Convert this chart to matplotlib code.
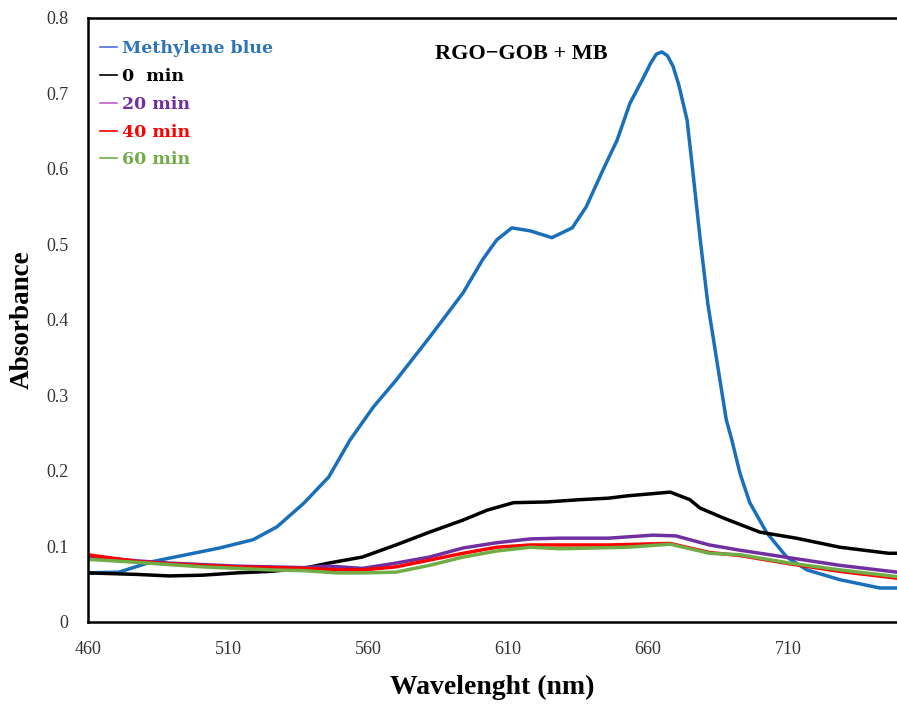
import matplotlib
matplotlib.use("Agg")
import matplotlib.pyplot as plt
from matplotlib.lines import Line2D

plt.rcParams['font.family'] = ['Liberation Serif', 'DejaVu Serif']

# Methylene blue
wl_mb = [460, 471, 483, 495, 507, 519, 527.5, 537, 546, 553.6, 562, 570, 582, 594, 601,
         606, 611.4, 618, 625.7, 633, 638, 644, 649, 653.6, 658, 661, 663, 665, 667,
         669, 671, 674, 676, 678.6, 681.4, 684.6, 688, 690, 692.9, 696.4, 702.5,
         709.6, 716.8, 728.6, 742.9, 749]
ab_mb = [0.065, 0.066, 0.080, 0.089, 0.098, 0.109, 0.126, 0.157, 0.192, 0.241, 0.285, 0.320,
         0.377, 0.436, 0.480, 0.506, 0.522, 0.518, 0.509, 0.522, 0.550, 0.599, 0.638, 0.687,
         0.718, 0.740, 0.752, 0.755, 0.750, 0.736, 0.712, 0.665, 0.599, 0.510, 0.422, 0.347,
         0.268, 0.241, 0.197, 0.158, 0.118, 0.086, 0.069, 0.056, 0.045, 0.045]

# 0 min
wl_0 = [460, 477.5, 489, 501, 513, 525, 537, 546, 558, 570, 582, 594, 602.5, 612, 624,
        635.7, 646, 652.5, 668, 675, 678.6, 686.8, 700, 713, 728.6, 746, 749]
ab_0 = [0.065, 0.063, 0.061, 0.062, 0.065, 0.067, 0.071, 0.078, 0.086, 0.102, 0.119, 0.135,
        0.148, 0.158, 0.159, 0.162, 0.164, 0.167, 0.172, 0.162, 0.151, 0.138, 0.119, 0.111,
        0.099, 0.091, 0.091]

# 20 min
wl_20 = [460, 477.5, 489, 501, 513, 525, 537, 546, 558, 570, 582, 594, 606, 618, 628.6,
         646, 661.8, 670, 682, 693, 710.7, 728.6, 749]
ab_20 = [0.087, 0.081, 0.078, 0.076, 0.074, 0.073, 0.072, 0.074, 0.071, 0.078, 0.086, 0.098,
         0.105, 0.110, 0.111, 0.111, 0.115, 0.114, 0.102, 0.095, 0.085, 0.075, 0.066]

# 40 min
wl_40 = [460, 477.5, 489, 501, 513, 525, 537, 549, 558, 570, 582, 594, 606, 618, 646,
         668, 682, 693, 710.7, 728.6, 749]
ab_40 = [0.089, 0.080, 0.077, 0.075, 0.073, 0.072, 0.071, 0.069, 0.069, 0.073, 0.082, 0.091,
         0.099, 0.102, 0.102, 0.104, 0.092, 0.088, 0.077, 0.067, 0.058]

# 60 min
wl_60 = [460, 477.5, 489, 501, 513, 525, 537, 549, 558, 570, 582, 594, 606, 618, 628.6,
         652.5, 668, 682, 693, 710.7, 728.6, 749]
ab_60 = [0.083, 0.079, 0.076, 0.073, 0.071, 0.069, 0.068, 0.065, 0.065, 0.066, 0.075, 0.086,
         0.094, 0.099, 0.097, 0.099, 0.103, 0.091, 0.089, 0.078, 0.069, 0.060]

labels = ['Methylene blue', '0  min', '20 min', '40 min', '60 min']
line_colors = ['#1a6fba', 'black', '#7030a0', '#ff0000', '#70ad47']
text_colors = ['#2e75b6', 'black', '#7030a0', '#ff0000', '#70ad47']
handle_colors = ['#4f6fe0', 'black', '#c060c0', '#ff0000', '#70ad47']

fig = plt.figure(figsize=(8.97, 7.04), dpi=100)
ax = fig.add_axes([0.0981, 0.1165, 0.9019, 0.858])

series = [(wl_mb, ab_mb), (wl_0, ab_0), (wl_20, ab_20), (wl_40, ab_40), (wl_60, ab_60)]
for (x, y), c in zip(series, line_colors):
    ax.plot(x, y, color=c, lw=2.5, solid_capstyle='round', solid_joinstyle='round')

ax.set_xlim(460, 749)
ax.set_ylim(0, 0.8)
ax.set_xticks([460, 510, 560, 610, 660, 710])
ax.set_yticks([0, 0.1, 0.2, 0.3, 0.4, 0.5, 0.6, 0.7, 0.8])
ax.set_yticklabels(['0', '0.1', '0.2', '0.3', '0.4', '0.5', '0.6', '0.7', '0.8'])
ax.tick_params(axis='both', length=0, labelsize=13, colors='#333333')
ax.tick_params(axis='y', pad=14)
ax.tick_params(axis='x', pad=14)
for s in ['left', 'bottom', 'top']:
    ax.spines[s].set_linewidth(1.8)
    ax.spines[s].set_color('black')
ax.spines['right'].set_visible(False)

ax.set_xlabel('Wavelenght (nm)', fontsize=20, fontweight='bold', labelpad=12)
ax.set_ylabel('Absorbance', fontsize=19.5, fontweight='bold', labelpad=8)

ax.text(0.535, 0.94, 'RGO\u2212GOB + MB', transform=ax.transAxes, ha='center', va='center',
        fontsize=16, fontweight='bold')

handles = [Line2D([], [], color=c, lw=1.2) for c in handle_colors]
leg = ax.legend(handles, labels, loc='upper left', bbox_to_anchor=(0.0, 0.983), frameon=False,
                handlelength=0.95, handletextpad=0.3, labelspacing=0.62,
                prop={'family': 'DejaVu Serif', 'weight': 'bold', 'size': 12.5},
                borderaxespad=0.3)
for t, c in zip(leg.get_texts(), text_colors):
    t.set_color(c)

fig.savefig('out.png', dpi=100)
